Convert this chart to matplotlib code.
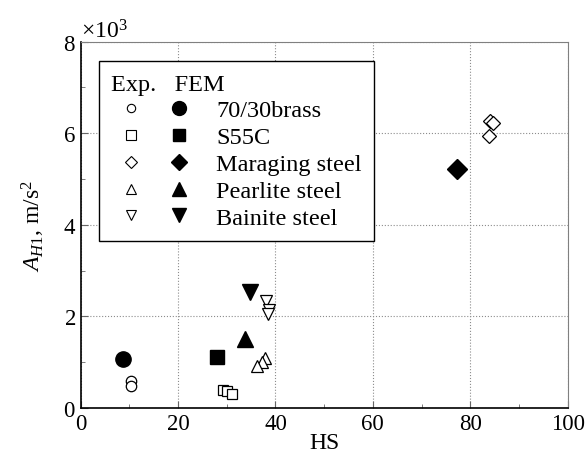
import matplotlib
matplotlib.use("Agg")
import matplotlib.pyplot as plt
from matplotlib.lines import Line2D
from matplotlib.legend_handler import HandlerTuple
from matplotlib.ticker import MultipleLocator, ScalarFormatter

plt.rcParams['font.family'] = ['Liberation Serif', 'DejaVu Serif']
plt.rcParams['mathtext.fontset'] = 'custom'
plt.rcParams['mathtext.rm'] = 'Liberation Serif'
plt.rcParams['mathtext.it'] = 'Liberation Serif:italic'

# materials, marker shapes
materials = ['70/30brass', 'S55C', 'Maraging steel', 'Pearlite steel', 'Bainite steel']
markers = ['o', 's', 'D', '^', 'v']

# experimental points (HS, A_H1 in m/s^2)
exp_hs = [
    [10.4, 10.4],
    [29.3, 30.0, 31.0],
    [84.0, 84.6, 83.9],
    [37.8, 37.3, 36.3],
    [38.0, 38.7, 38.5],
]
exp_a = [
    [600, 470],
    [400, 380, 310],
    [6270, 6220, 5930],
    [1090, 1010, 920],
    [2340, 2150, 2050],
]

# FEM points
fem_hs = [8.7, 28.0, 77.3, 33.7, 34.8]
fem_a = [1070, 1110, 5220, 1510, 2530]

exp_size = [7.5, 7, 7.5, 9, 9]
fem_size = [11, 9.5, 10, 12, 12]
leg_open = [6, 7, 6, 7.5, 7.5]
leg_fill = [10, 9, 8.5, 10.5, 10.5]

fig, ax = plt.subplots(figsize=(5.87, 4.64), dpi=100)
fig.subplots_adjust(left=0.1375, right=0.967, bottom=0.1185, top=0.908)

handles = []
for i in range(len(materials)):
    ax.plot(exp_hs[i], exp_a[i], linestyle='none', marker=markers[i],
            markersize=exp_size[i], markerfacecolor='white',
            markeredgecolor='black', markeredgewidth=0.9, zorder=3)
    ax.plot(fem_hs[i], fem_a[i], linestyle='none', marker=markers[i],
            markersize=fem_size[i], color='black', zorder=3)
    h_open = Line2D([], [], linestyle='none', marker=markers[i], markersize=leg_open[i],
                    markerfacecolor='white', markeredgecolor='black', markeredgewidth=0.8)
    h_fill = Line2D([], [], linestyle='none', marker=markers[i], markersize=leg_fill[i],
                    color='black')
    handles.append((h_open, h_fill))

ax.set_xlim(0, 100)
ax.set_ylim(0, 8000)
ax.xaxis.set_major_locator(MultipleLocator(20))
ax.xaxis.set_minor_locator(MultipleLocator(10))
ax.yaxis.set_major_locator(MultipleLocator(2000))
ax.yaxis.set_minor_locator(MultipleLocator(1000))

fmt = ScalarFormatter(useMathText=True)
fmt.set_powerlimits((3, 3))
ax.yaxis.set_major_formatter(fmt)
ax.yaxis.get_offset_text().set_fontsize(17)

ax.tick_params(which='both', direction='in', labelsize=16.5, color='0.4')
ax.tick_params(which='major', length=5)
ax.tick_params(which='minor', length=3)

ax.grid(True, which='major', linestyle=':', color='0.55', linewidth=0.8)
ax.set_axisbelow(True)

for s in ['left', 'bottom']:
    ax.spines[s].set_linewidth(1.2)
for s in ['top', 'right']:
    ax.spines[s].set_color('0.5')
    ax.spines[s].set_linewidth(0.8)

ax.set_xlabel('HS', fontsize=17, labelpad=-1)
ax.set_ylabel(r'$A_{H1}$, m/s$^2$', fontsize=17, labelpad=11)

leg = ax.legend(handles, materials, handler_map={tuple: HandlerTuple(ndivide=None, pad=0.33)},
                loc='upper left', bbox_to_anchor=(0.037, 0.946), borderaxespad=0,
                fontsize=17.5, title='Exp.   FEM', title_fontsize=17.5, alignment='left',
                handlelength=3.62, handletextpad=0.7, labelspacing=0.2,
                borderpad=0.5, fancybox=False, framealpha=1, edgecolor='black')
leg.get_frame().set_linewidth(1.0)
leg.set_zorder(5)

fig.savefig('out.png', dpi=100)
